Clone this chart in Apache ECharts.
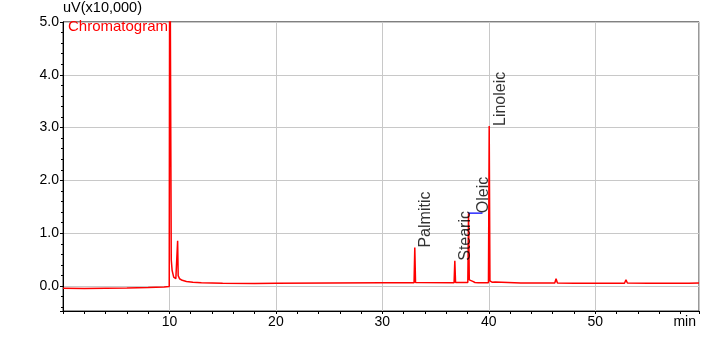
<!DOCTYPE html>
<html>
<head>
<meta charset="utf-8">
<script src="https://cdn.jsdelivr.net/npm/echarts@6/dist/echarts.min.js"></script>
<style>
html,body{margin:0;padding:0;background:#fff;}
#chart{width:702px;height:341px;}
</style>
</head>
<body>
<div id="chart"></div>
<script>
// Retention time (min) and detector signal (uV x10,000)
var times = [0, 2, 4, 6, 8, 9.5, 9.98, 10.03, 10.12, 10.17, 10.25, 10.4, 10.6, 10.72, 10.77, 10.82, 10.95, 11.2, 11.6, 12.2, 13, 15, 18, 20, 25, 30,
  32.98, 33.05, 33.12, 33.3, 36.74, 36.81, 36.88, 37.0, 38.03, 38.1, 38.17, 38.3, 38.5, 38.7, 39.0,
  39.97, 40.04, 40.11, 40.3, 40.6, 43, 46.2, 46.32, 46.45, 48, 50, 52.75, 52.89, 53.02, 55, 58.6, 58.7, 58.8, 59.75];
var signal = [-0.04, -0.045, -0.04, -0.035, -0.025, -0.015, -0.005, 8, 8, 0.5, 0.3, 0.17, 0.14, 0.14, 0.86, 0.2, 0.14, 0.11, 0.09, 0.075, 0.065, 0.055, 0.05, 0.055, 0.06, 0.065,
  0.065, 0.73, 0.07, 0.065, 0.065, 0.48, 0.07, 0.065, 0.07, 1.38, 0.12, 0.1, 0.09, 0.07, 0.065,
  0.065, 3.03, 0.1, 0.075, 0.08, 0.06, 0.06, 0.14, 0.06, 0.055, 0.055, 0.055, 0.12, 0.06, 0.055, 0.055, 0.08, 0.055, 0.06];

// Peak labels
var peakNames = ['Palmitic', 'Stearic', 'Oleic', 'Linoleic'];
var peakLabelTimes = [33.3, 37.05, 38.75, 40.4];
var peakHeights = [0.73, 0.48, 1.38, 3.03];

// Oleic integration baseline (blue)
var baselineTimes = [38.1, 39.41];
var baselineValues = [1.38, 1.38];

var xTickLabels = [10, 20, 30, 40, 50];

var lineData = times.map(function (t, i) { return [t, signal[i]]; });
var labelData = peakNames.map(function (n, i) { return { value: [peakLabelTimes[i], peakHeights[i]], name: n }; });
var baseData = baselineTimes.map(function (t, i) { return [t, baselineValues[i]]; });

var FONT = 'Liberation Sans, Arial, sans-serif';
var chart = echarts.init(document.getElementById('chart'), null, { renderer: 'canvas' });
chart.setOption({
  animation: false,
  backgroundColor: '#fff',
  textStyle: { fontFamily: FONT },
  title: {
    text: 'Chromatogram', left: 68, top: 19, padding: 0,
    textStyle: { color: '#ff0000', fontSize: 15, fontWeight: 'normal', fontFamily: FONT }
  },
  grid: { left: 63, right: 3, top: 19, bottom: 30, show: true, borderColor: '#333', borderWidth: 1 },
  xAxis: {
    type: 'value', min: 0, max: 59.75, interval: 10,
    name: 'min', nameLocation: 'end', nameGap: -3,
    nameTextStyle: { align: 'right', verticalAlign: 'top', padding: [4, 0, 0, 0], fontSize: 14, color: '#000', fontFamily: FONT },
    axisLine: { show: true, onZero: false, lineStyle: { color: '#000', width: 1 } },
    axisTick: { show: true, inside: false, length: 3, lineStyle: { color: '#000' } },
    minorTick: { show: true, splitNumber: 5, length: 3, lineStyle: { color: '#000' } },
    axisLabel: {
      margin: 4, fontSize: 14, color: '#000', fontFamily: FONT,
      formatter: function (v) { return xTickLabels.indexOf(v) >= 0 ? String(v) : ''; }
    },
    splitLine: { show: true, lineStyle: { color: '#c8c8c8', width: 1 } }
  },
  yAxis: {
    type: 'value', min: -0.47, max: 5, splitNumber: 5,
    name: 'uV(x10,000)', nameLocation: 'end', nameGap: 2,
    nameTextStyle: { align: 'left', verticalAlign: 'bottom', fontSize: 14.5, color: '#000', fontFamily: FONT, padding: [0, 0, 0, 0] },
    axisLine: { show: true, lineStyle: { color: '#000', width: 1 } },
    axisTick: { show: true, inside: false, length: 3, lineStyle: { color: '#000' } },
    minorTick: { show: true, splitNumber: 5, length: 2, lineStyle: { color: '#000' } },
    axisLabel: {
      margin: 4, fontSize: 14, color: '#000', fontFamily: FONT, showMinLabel: false,
      formatter: function (v) { return v.toFixed(1); }
    },
    splitLine: { show: true, lineStyle: { color: '#c8c8c8', width: 1 } }
  },
  series: [
    {
      type: 'line', data: lineData, showSymbol: false, symbol: 'none', clip: true,
      lineStyle: { color: '#ff0000', width: 1.5 }, z: 3
    },
    {
      type: 'line', data: baseData, showSymbol: false, symbol: 'none',
      lineStyle: { color: '#0000ff', width: 1.2 }, z: 4
    },
    {
      type: 'scatter', data: labelData, symbolSize: 0, z: 5,
      label: {
        show: true, position: [0, 0], rotate: 90, align: 'left', verticalAlign: 'top',
        fontSize: 16, color: '#000', fontFamily: FONT,
        formatter: function (p) { return p.name; }
      }
    }
  ]
});
</script>
</body>
</html>
